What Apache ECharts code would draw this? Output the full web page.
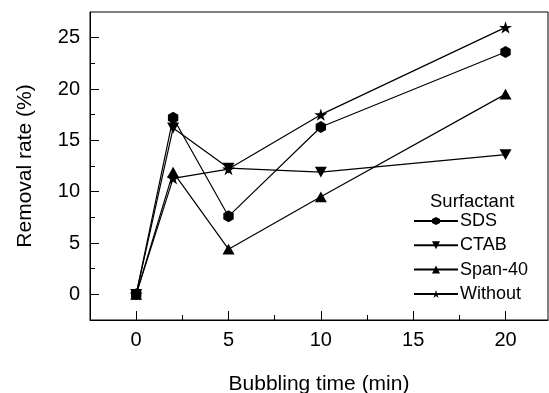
<!DOCTYPE html>
<html>
<head>
<meta charset="utf-8">
<script src="https://cdn.jsdelivr.net/npm/echarts@6/dist/echarts.min.js"></script>
<style>html,body{margin:0;padding:0;background:#fff;}#c{width:549px;height:393px;}</style>
</head>
<body>
<div id="c"></div>
<script>
const times = [0, 2, 5, 10, 20];
const seriesNames = ['SDS', 'CTAB', 'Span-40', 'Without'];
const sds = [0, 17.2, 7.6, 16.3, 23.6];
const ctab = [0, 16.2, 12.3, 11.9, 13.6];
const span40 = [0, 11.9, 4.4, 9.5, 19.5];
const without = [0, 11.3, 12.2, 17.5, 26.0];
const xMajorTicks = [0, 5, 10, 15, 20];
const xMinorTicks = [2.5, 7.5, 12.5, 17.5];
const yMajorTicks = [0, 5, 10, 15, 20, 25];
const yMinorTicks = [2.5, 7.5, 12.5, 17.5, 22.5];

const hexagon = 'path://M0,-1 L0.866,-0.5 L0.866,0.5 L0,1 L-0.866,0.5 L-0.866,-0.5 Z';
const downTri = 'path://M0,0 L2,0 L1,1.8 Z';
const upTri = 'path://M1,0 L2,1.8 L0,1.8 Z';
const star = 'path://M0,-1 L0.2245,-0.309 L0.9511,-0.309 L0.3633,0.118 L0.5878,0.809 L0,0.382 L-0.5878,0.809 L-0.3633,0.118 L-0.9511,-0.309 L-0.2245,-0.309 Z';

const symbols = [hexagon, downTri, upTri, star];
const sizes = [12, 12, 12, 13];
const datas = [sds, ctab, span40, without];

const font = 'Liberation Sans, Arial, sans-serif';
const chart = echarts.init(document.getElementById('c'));

const series = seriesNames.map((n, i) => ({
  name: n,
  type: 'line',
  data: times.map((t, j) => [t, datas[i][j]]),
  symbol: symbols[i],
  symbolSize: sizes[i],
  symbolKeepAspect: true,
  lineStyle: { color: '#000', width: 1.2 },
  itemStyle: { color: '#000' },
  z: 3
}));

chart.setOption({
  animation: false,
  backgroundColor: '#fff',
  grid: { left: 90, top: 12, right: 1, bottom: 73, outerBoundsMode: 'none', containLabel: false, show: true, borderColor: '#000', borderWidth: 1, backgroundColor: 'transparent' },
  xAxis: [{
    type: 'value', min: -2.5, max: 22.3,
    axisLine: { show: true, onZero: false, lineStyle: { color: '#000', width: 1 } },
    axisTick: { show: true, inside: true, length: 9, customValues: xMajorTicks, lineStyle: { color: '#000' } },
    axisLabel: { customValues: xMajorTicks, color: '#000', fontSize: 20, fontFamily: font, margin: 10 },
    splitLine: { show: false },
    name: 'Bubbling time (min)', nameLocation: 'middle', nameGap: 54,
    nameTextStyle: { color: '#000', fontSize: 21, fontFamily: font }
  }, {
    type: 'value', min: -2.5, max: 22.3, position: 'bottom',
    axisLine: { show: false, onZero: false },
    axisTick: { show: true, inside: true, length: 5, customValues: xMinorTicks, lineStyle: { color: '#000' } },
    axisLabel: { show: false },
    splitLine: { show: false }
  }],
  yAxis: [{
    type: 'value', min: -2.5, max: 27.5,
    axisLine: { show: true, onZero: false, lineStyle: { color: '#000', width: 1 } },
    axisTick: { show: true, inside: true, length: 9, customValues: yMajorTicks, lineStyle: { color: '#000' } },
    axisLabel: { customValues: yMajorTicks, color: '#000', fontSize: 20, fontFamily: font, margin: 10 },
    splitLine: { show: false },
    name: 'Removal rate (%)', nameLocation: 'middle', nameGap: 54,
    nameTextStyle: { color: '#000', fontSize: 21, fontFamily: font }
  }, {
    type: 'value', min: -2.5, max: 27.5, position: 'left',
    axisLine: { show: false, onZero: false },
    axisTick: { show: true, inside: true, length: 5, customValues: yMinorTicks, lineStyle: { color: '#000' } },
    axisLabel: { show: false },
    splitLine: { show: false }
  }],
  legend: {
    data: seriesNames,
    orient: 'vertical',
    left: 413, top: 212,
    itemWidth: 44, itemHeight: 10, itemGap: 6.3,
    textStyle: { color: '#000', fontSize: 18, fontFamily: font, padding: [0, 0, 0, -3] },
    padding: 0
  },
  graphic: [{
    type: 'text', left: 430, top: 192,
    style: { text: 'Surfactant', fill: '#000', font: '18.5px ' + font }
  }],
  series: series
});
</script>
</body>
</html>
